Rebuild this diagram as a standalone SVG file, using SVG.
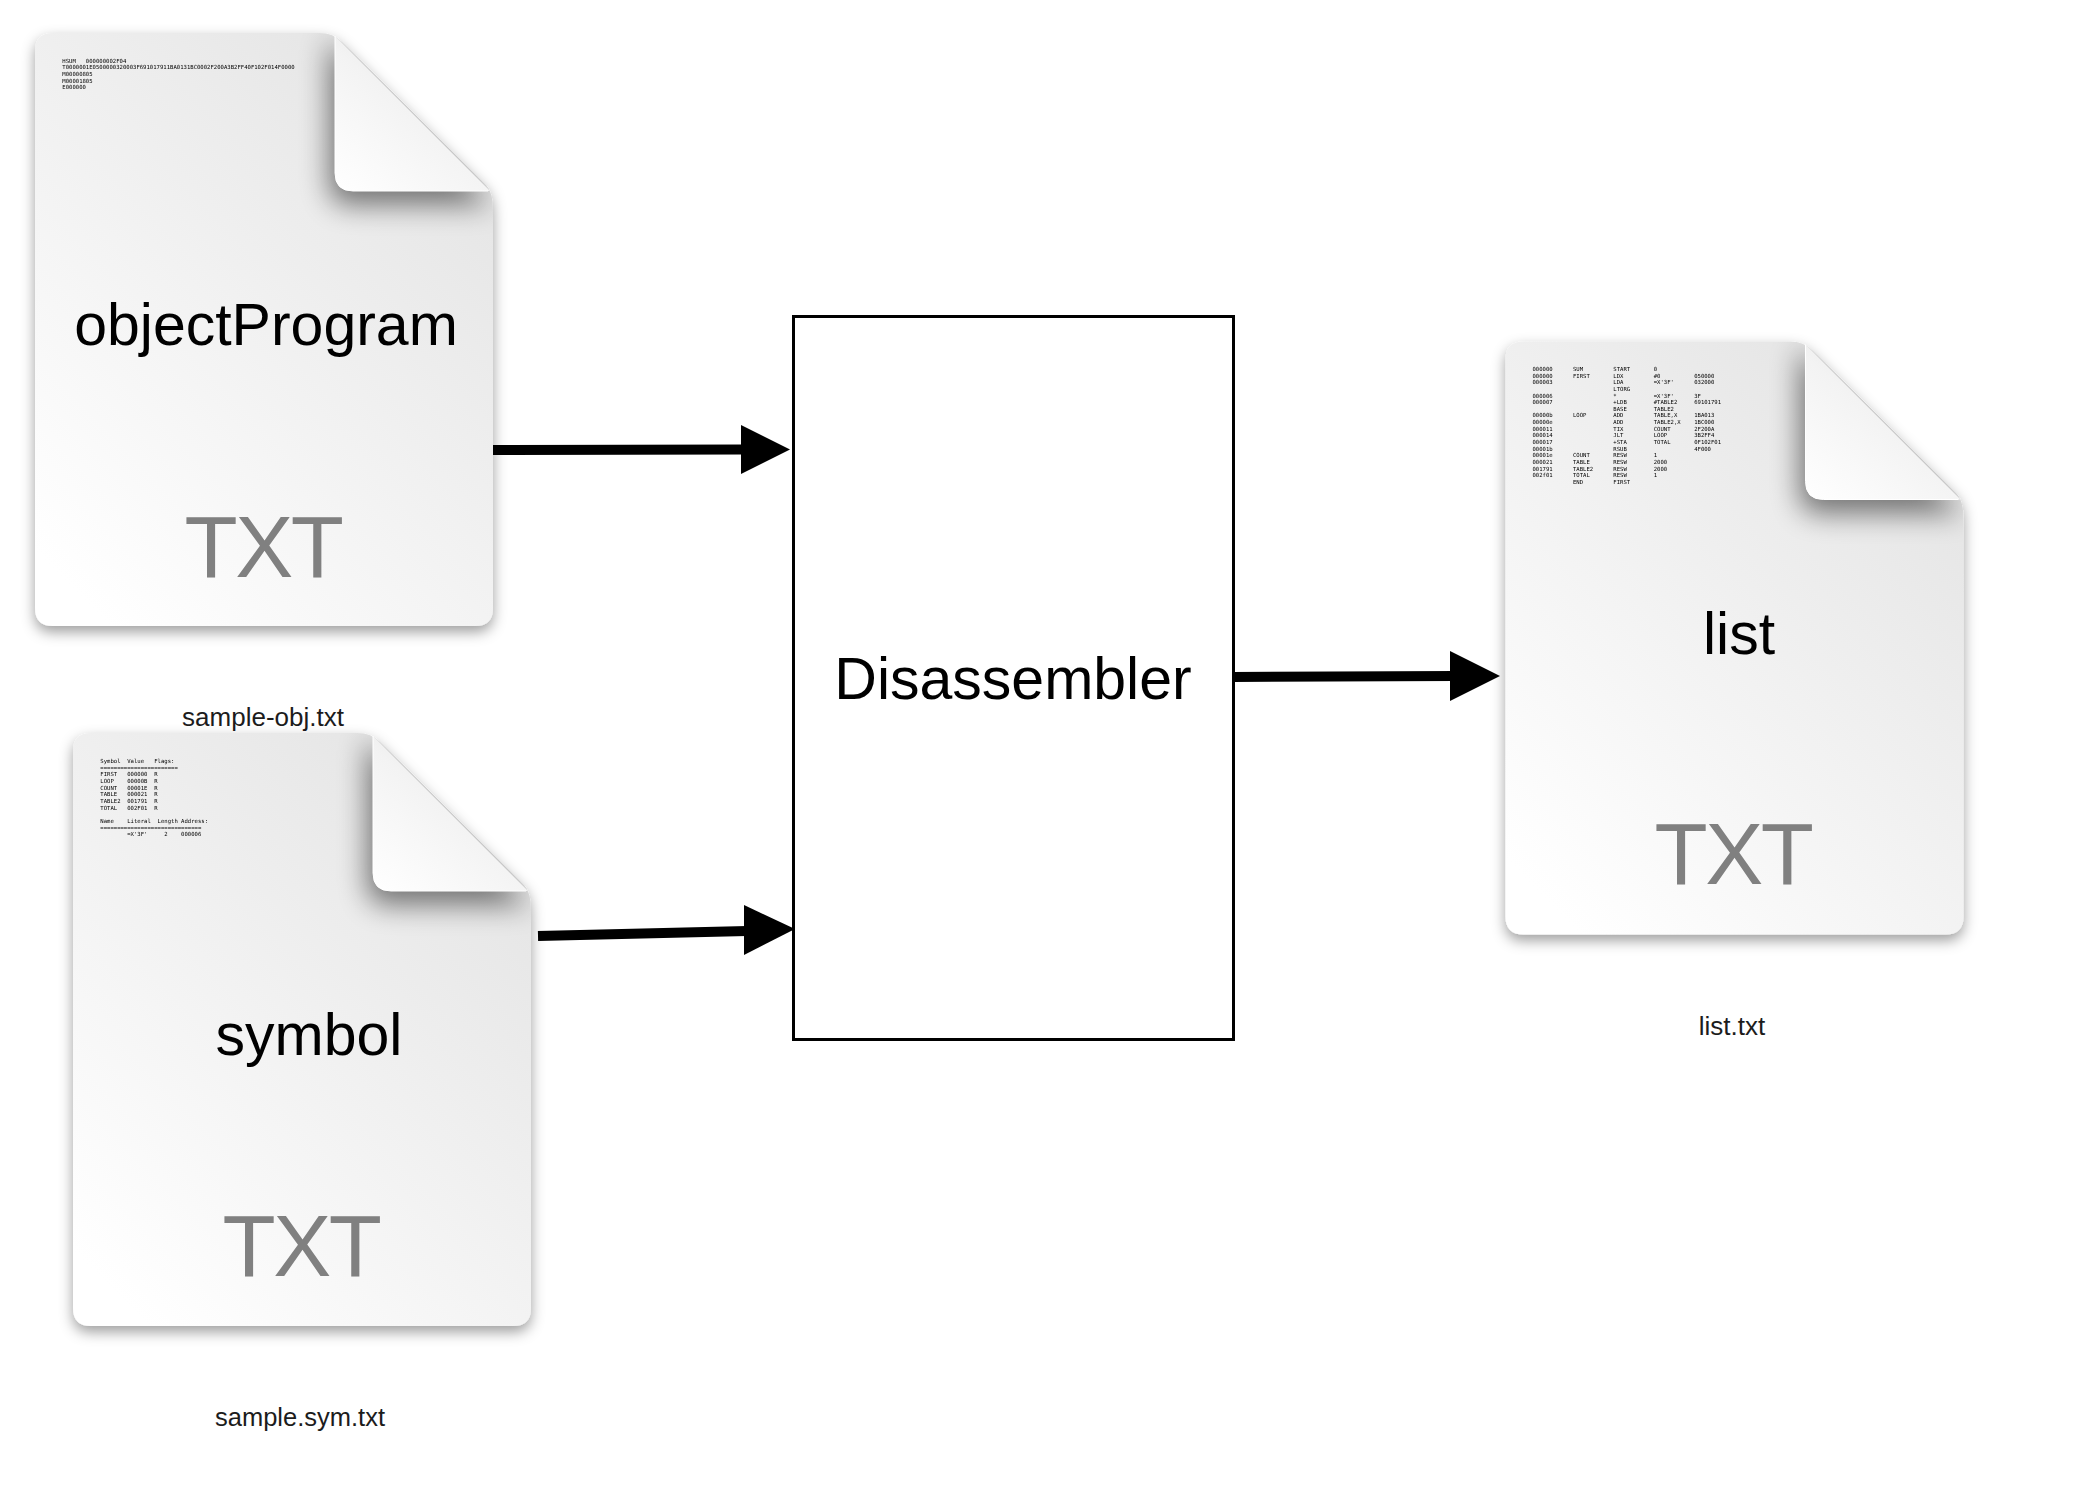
<svg xmlns="http://www.w3.org/2000/svg" xmlns:xlink="http://www.w3.org/1999/xlink" width="2094" height="1498" viewBox="0 0 2094 1498">
<style>
text{font-family:"Liberation Sans",Arial,sans-serif;text-anchor:middle}
.name{font-size:59px;fill:#000}
.ext{font-size:87px;fill:#808080;letter-spacing:-2.5px}
.cap{font-size:26px;fill:#1c1c1c}
.capn{font-size:25.500px}
.mono{font-family:"DejaVu Sans Mono","Liberation Mono",monospace;font-size:5.6px;fill:#000;text-anchor:start;white-space:pre;filter:url(#soft)}
.ln{stroke:#000;stroke-width:10;fill:none}
.hd{fill:#000}
</style>
<defs>
<filter id="soft" x="-5%" y="-100%" width="110%" height="300%"><feGaussianBlur stdDeviation="0.25"/></filter>
<linearGradient id="bodyG" x1="0.85" y1="0" x2="0.1" y2="0.95">
<stop offset="0" stop-color="#e3e3e3"/><stop offset="0.5" stop-color="#f1f1f1"/><stop offset="1" stop-color="#ffffff"/>
</linearGradient>
<linearGradient id="foldG" x1="0" y1="1" x2="0.75" y2="0.1">
<stop offset="0" stop-color="#ffffff"/><stop offset="0.6" stop-color="#f3f3f3"/><stop offset="1" stop-color="#e2e2e2"/>
</linearGradient>
<filter id="drop" x="-15%" y="-15%" width="130%" height="130%">
<feDropShadow dx="0" dy="6" stdDeviation="7" flood-color="#000" flood-opacity="0.38"/>
</filter>
<filter id="blur" x="-50%" y="-50%" width="200%" height="200%"><feGaussianBlur stdDeviation="14"/></filter>
<clipPath id="bodyClip"><path d="M18,0H285Q298,0 307,9L451,152Q458,159 458,177V575Q458,593 440,593H18Q0,593 0,575V18Q0,0 18,0Z"/></clipPath>
<g id="doc">
<path d="M18,0H285Q298,0 307,9L451,152Q458,159 458,177V575Q458,593 440,593H18Q0,593 0,575V18Q0,0 18,0Z" fill="url(#bodyG)" filter="url(#drop)"/>
<g clip-path="url(#bodyClip)">
<path d="M294,6L457,172H316Q294,172 294,150Z" fill="#000" opacity="0.5" filter="url(#blur)"/>
</g>
<path d="M300,3L455,158H318Q300,158 300,140Z" fill="url(#foldG)"/>
<path d="M300,3V140Q300,158 318,158H453" fill="none" stroke="#fff" stroke-width="1"/>
</g>
</defs>
<g id="connectors">
<path class="ln" d="M489,450L743,449.500"/><path class="hd" d="M790,449.500L741,425V474Z"/>
<path class="ln" d="M538,936L747,931"/><path class="hd" d="M795,929L744,905V955Z"/>
<path class="ln" d="M1233,677L1455,676"/><path class="hd" d="M1500,676L1450,651V701Z"/>
</g>
<g id="objectProgram">
<use xlink:href="#doc" href="#doc" x="35" y="33"/>
<text class="mono" x="62.300" y="62.500">HSUM   000000002F04</text>
<text class="mono" x="62.300" y="69.200">T0000001E0500000320003F691017911BA0131BC0002F200A3B2FF40F102F014F0000</text>
<text class="mono" x="62.300" y="75.900">M00000805</text>
<text class="mono" x="62.300" y="82.500">M00001805</text>
<text class="mono" x="62.300" y="89.100">E000000</text>
<text class="name" x="266" y="345">objectProgram</text>
<text class="ext" x="263" y="577">TXT</text>
<text class="cap" x="263" y="726">sample-obj.txt</text>
</g>
<g id="symbol">
<use xlink:href="#doc" href="#doc" x="73" y="733"/>
<text class="mono" x="100.300" y="763">Symbol  Value   Flags:</text>
<text class="mono" x="100.300" y="769.700">=======================</text>
<text class="mono" x="100.300" y="776.300">FIRST   000000  R</text>
<text class="mono" x="100.300" y="783">LOOP    00000B  R</text>
<text class="mono" x="100.300" y="789.600">COUNT   00001E  R</text>
<text class="mono" x="100.300" y="796.300">TABLE   000021  R</text>
<text class="mono" x="100.300" y="802.900">TABLE2  001791  R</text>
<text class="mono" x="100.300" y="809.600">TOTAL   002F01  R</text>
<text class="mono" x="100.300" y="822.900">Name    Literal  Length Address:</text>
<text class="mono" x="100.300" y="829.500">==============================</text>
<text class="mono" x="100.300" y="836.200">        =X'3F'     2    000006</text>
<text class="name" x="309" y="1055">symbol</text>
<text class="ext" x="301" y="1276">TXT</text>
<text class="cap capn" x="300" y="1426">sample.sym.txt</text>
</g>
<g id="disassembler">
<rect x="793.500" y="316.500" width="440" height="723" fill="#fff" stroke="#000" stroke-width="3"/>
<text class="name" x="1013" y="699">Disassembler</text>
</g>
<g id="list">
<use xlink:href="#doc" href="#doc" x="1505.500" y="341.500"/>
<text class="mono" x="1532.500" y="371">000000      SUM         START       0</text>
<text class="mono" x="1532.500" y="377.600">000000      FIRST       LDX         #0          050000</text>
<text class="mono" x="1532.500" y="384.300">000003                  LDA         =X'3F'      032000</text>
<text class="mono" x="1532.500" y="390.900">                        LTORG</text>
<text class="mono" x="1532.500" y="397.500">000006                  *           =X'3F'      3F</text>
<text class="mono" x="1532.500" y="404.200">000007                  +LDB        #TABLE2     69101791</text>
<text class="mono" x="1532.500" y="410.800">                        BASE        TABLE2</text>
<text class="mono" x="1532.500" y="417.400">00000b      LOOP        ADD         TABLE,X     1BA013</text>
<text class="mono" x="1532.500" y="424">00000e                  ADD         TABLE2,X    1BC000</text>
<text class="mono" x="1532.500" y="430.700">000011                  TIX         COUNT       2F200A</text>
<text class="mono" x="1532.500" y="437.300">000014                  JLT         LOOP        3B2FF4</text>
<text class="mono" x="1532.500" y="443.900">000017                  +STA        TOTAL       0F102F01</text>
<text class="mono" x="1532.500" y="450.600">00001b                  RSUB                    4F000</text>
<text class="mono" x="1532.500" y="457.200">00001e      COUNT       RESW        1</text>
<text class="mono" x="1532.500" y="463.800">000021      TABLE       RESW        2000</text>
<text class="mono" x="1532.500" y="470.500">001791      TABLE2      RESW        2000</text>
<text class="mono" x="1532.500" y="477.100">002f01      TOTAL       RESW        1</text>
<text class="mono" x="1532.500" y="483.700">            END         FIRST</text>
<text class="name" x="1739" y="654">list</text>
<text class="ext" x="1733" y="884">TXT</text>
<text class="cap" x="1732" y="1035">list.txt</text>
</g>
</svg>
